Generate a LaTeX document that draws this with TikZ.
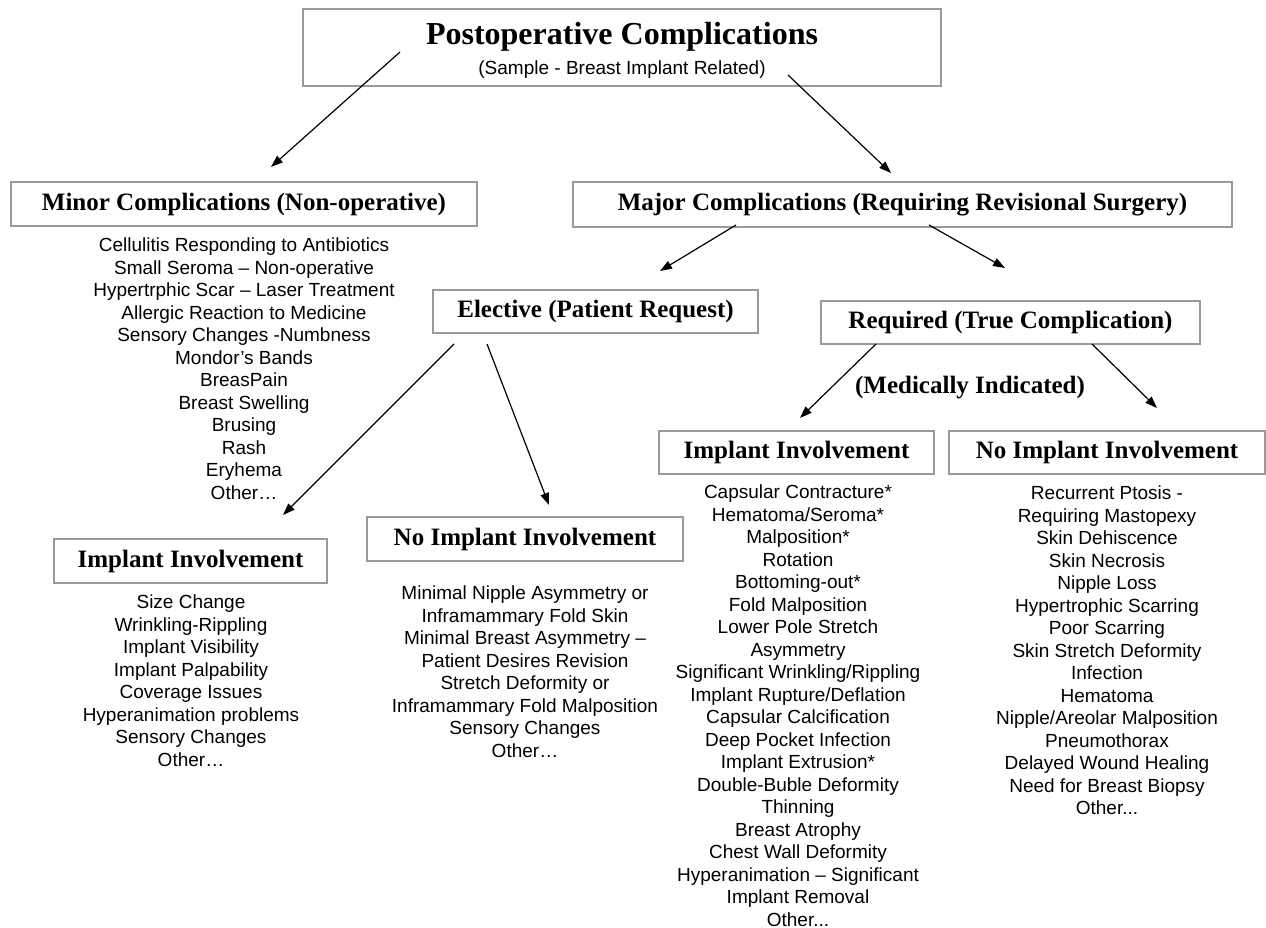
\documentclass[tikz,border=0pt]{standalone}
\usepackage{fontspec}
\setmainfont{Liberation Serif}
\newfontfamily\arialf{Liberation Sans}
\usetikzlibrary{arrows.meta}
\definecolor{boxgray}{HTML}{9A9A9A}
\newcommand\bodyf{\arialf\fontsize{19}{22.5}\selectfont}
\newcommand\hdrf{\rmfamily\bfseries\fontsize{25}{30}\selectfont}
\newcommand\ttlf{\rmfamily\bfseries\fontsize{32}{38}\selectfont}
\begin{document}
\begin{tikzpicture}[x=1pt,y=-1pt,
  box/.style={draw=boxgray, line width=1.5pt, inner sep=0pt, font=\hdrf},
  list/.style={align=center, font=\bodyf, inner sep=0pt, anchor=north},
  arr/.style={-{Triangle[length=12pt,width=8.5pt]}, line width=1.2pt}]
\useasboundingbox (0,0) rectangle (1266,928);

% boxes
\node[box, minimum width=638pt, minimum height=77pt] (title) at (622,47.5) {};
\node[font=\ttlf, inner sep=0pt] (ttl) at (622,37) {Postoperative Complications};
\node[font=\bodyf, inner sep=0pt] (sub) at (622,70) {(Sample - Breast Implant Related)};

\node[box, minimum width=466pt, minimum height=44pt] (minor) at (244,204) {Minor Complications (Non-operative)};
\node[box, minimum width=659pt, minimum height=45pt] (major) at (902.5,204.5) {Major Complications (Requiring Revisional Surgery)};
\node[box, minimum width=325pt, minimum height=43pt] (elective) at (595.5,311.5) {Elective (Patient Request)};
\node[box, minimum width=379pt, minimum height=43pt] (required) at (1010.5,322.5) {Required (True Complication)};
\node[font=\hdrf, inner sep=0pt] (medind) at (970,388) {(Medically Indicated)};
\node[box, minimum width=275pt, minimum height=43pt] (rimp) at (796.5,452.5) {Implant Involvement};
\node[box, minimum width=316pt, minimum height=43pt] (rnoimp) at (1107,452.5) {No Implant Involvement};
\node[box, minimum width=273pt, minimum height=44pt] (limp) at (190.5,561) {Implant Involvement};
\node[box, minimum width=316pt, minimum height=44pt] (mnoimp) at (525,539) {No Implant Involvement};

% lists
\node[list] (minorlist) at (244,238) {Cellulitis Responding to Antibiotics\\Small Seroma – Non-operative\\Hypertrphic Scar – Laser Treatment\\Allergic Reaction to Medicine\\Sensory Changes -Numbness\\Mondor’s Bands\\BreasPain\\Breast Swelling\\Brusing\\Rash\\Eryhema\\Other…};
\node[list] (limplist) at (191,595) {Size Change\\Wrinkling-Rippling\\Implant Visibility\\Implant Palpability\\Coverage Issues\\Hyperanimation problems\\Sensory Changes\\Other…};
\node[list] (mnoimplist) at (525,586) {Minimal Nipple Asymmetry or\\Inframammary Fold Skin\\Minimal Breast Asymmetry –\\Patient Desires Revision\\Stretch Deformity or\\Inframammary Fold Malposition\\Sensory Changes\\Other…};
\node[list] (rimplist) at (798,485) {Capsular Contracture*\\Hematoma/Seroma*\\Malposition*\\Rotation\\Bottoming-out*\\Fold Malposition\\Lower Pole Stretch\\Asymmetry\\Significant Wrinkling/Rippling\\Implant Rupture/Deflation\\Capsular Calcification\\Deep Pocket Infection\\Implant Extrusion*\\Double-Buble Deformity\\Thinning\\Breast Atrophy\\Chest Wall Deformity\\Hyperanimation – Significant\\Implant Removal\\Other...};
\node[list] (rnoimplist) at (1107,486) {Recurrent Ptosis -\\Requiring Mastopexy\\Skin Dehiscence\\Skin Necrosis\\Nipple Loss\\Hypertrophic Scarring\\Poor Scarring\\Skin Stretch Deformity\\Infection\\Hematoma\\Nipple/Areolar Malposition\\Pneumothorax\\Delayed Wound Healing\\Need for Breast Biopsy\\Other...};

% arrow end points
\coordinate (a1s) at (400,52);   \coordinate (a1e) at (271,167);
\coordinate (a2s) at (788,75);   \coordinate (a2e) at (891,173);
\coordinate (a3s) at (736,225);  \coordinate (a3e) at (660,271);
\coordinate (a4s) at (929,225);  \coordinate (a4e) at (1005,268);
\coordinate (a5s) at (454,344);  \coordinate (a5e) at (283,515);
\coordinate (a6s) at (487,344);  \coordinate (a6e) at (549,505);
\coordinate (a7s) at (876,344);  \coordinate (a7e) at (800,418);
\coordinate (a8s) at (1092,344); \coordinate (a8e) at (1157,408);

\draw[arr] (a1s) -- (a1e);
\draw[arr] (a2s) -- (a2e);
\draw[arr] (a3s) -- (a3e);
\draw[arr] (a4s) -- (a4e);
\draw[arr] (a5s) -- (a5e);
\draw[arr] (a6s) -- (a6e);
\draw[arr] (a7s) -- (a7e);
\draw[arr] (a8s) -- (a8e);
\end{tikzpicture}
\end{document}
